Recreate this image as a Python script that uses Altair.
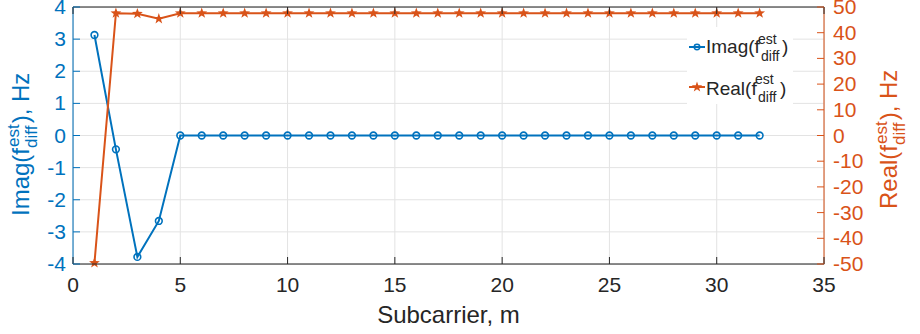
import math
import altair as alt
import pandas as pd

# ---------------- data ----------------
subcarrier = list(range(1, 33))
imag_vals = [3.13, -0.43, -3.78, -2.66, 0, 0, 0, 0, 0, 0, 0, 0, 0, 0, 0, 0,
             0, 0, 0, 0, 0, 0, 0, 0, 0, 0, 0, 0, 0, 0, 0, 0]
real_vals = [-49.6, 47.6, 47.4, 45.4, 47.6, 47.6, 47.6, 47.6, 47.6, 47.6, 47.6,
             47.6, 47.6, 47.6, 47.6, 47.6, 47.6, 47.6, 47.6, 47.6, 47.6, 47.6,
             47.6, 47.6, 47.6, 47.6, 47.6, 47.6, 47.6, 47.6, 47.6, 47.6]
x_ticks = [0, 5, 10, 15, 20, 25, 30, 35]
left_ticks = [-4, -3, -2, -1, 0, 1, 2, 3, 4]
right_ticks = [-50, -40, -30, -20, -10, 0, 10, 20, 30, 40, 50]
x_title = "Subcarrier, m"

# ---------------- style ----------------
BLUE = "#0072BD"
ORANGE = "#D95319"
DARK = "#262626"
GRID = "#e3e3e3"
FONT = "Liberation Sans"
L, T = 73, 7          # plot-area offset inside the window
W, H = 751, 257       # plot-area size
TICK = 7
LAB = 21              # tick label size
TF, SF = 24, 17       # title font / sub-superscript font

df = pd.DataFrame({"m": subcarrier, "imag": imag_vals, "real": real_vals})
one = pd.DataFrame({"a": [0]})
xt = pd.DataFrame({"v": x_ticks, "lab": [str(v) for v in x_ticks]})
ltk = pd.DataFrame({"v": left_ticks, "lab": [str(v) for v in left_ticks]})
rtk = pd.DataFrame({"v": right_ticks, "lab": [str(v) for v in right_ticks]})


def xs():
    return alt.Scale(domain=[0, 35], nice=False, zero=False)


def ls():
    return alt.Scale(domain=[-4, 4], nice=False, zero=False)


def rs():
    return alt.Scale(domain=[-50, 50], nice=False, zero=False)


# star symbol path (unit square)
pts = []
for k in range(10):
    r = 1.0 if k % 2 == 0 else 0.40
    a = math.radians(-90 + 36 * k)
    pts.append(f"{r*math.cos(a):.3f},{r*math.sin(a):.3f}")
STAR = "M" + " L".join(pts) + " Z"

# ---------- grid ----------
xgrid = alt.Chart(xt).mark_rule(color=GRID, strokeWidth=1).encode(
    x=alt.X("v:Q", scale=xs(), axis=None), y=alt.value(0), y2=alt.value(H))
ygrid = alt.Chart(ltk).mark_rule(color=GRID, strokeWidth=1).encode(
    y=alt.Y("v:Q", scale=ls(), axis=None), x=alt.value(0), x2=alt.value(W))

# ---------- series ----------
base = alt.Chart(df)
blue_line = base.mark_line(color=BLUE, strokeWidth=2).encode(
    x=alt.X("m:Q", scale=xs(), axis=None),
    y=alt.Y("imag:Q", scale=ls(), axis=None))
blue_pts = base.mark_point(shape="circle", filled=False, color=BLUE, size=45,
                           strokeWidth=1.6, opacity=1).encode(
    x=alt.X("m:Q", scale=xs(), axis=None),
    y=alt.Y("imag:Q", scale=ls(), axis=None))
blue = alt.layer(blue_line, blue_pts)

orange_line = base.mark_line(color=ORANGE, strokeWidth=2).encode(
    x=alt.X("m:Q", scale=xs(), axis=None),
    y=alt.Y("real:Q", scale=rs(), axis=None))
orange_pts = base.mark_point(shape=STAR, filled=True, color=ORANGE, size=130,
                             opacity=1).encode(
    x=alt.X("m:Q", scale=xs(), axis=None),
    y=alt.Y("real:Q", scale=rs(), axis=None))
orange = alt.layer(orange_line, orange_pts)

# ---------- axes (frame, inward ticks, labels) ----------
frame = [
    alt.Chart(one).mark_rule(color=DARK, strokeWidth=1).encode(
        x=alt.value(0), x2=alt.value(W), y=alt.value(0)),
    alt.Chart(one).mark_rule(color=DARK, strokeWidth=1).encode(
        x=alt.value(0), x2=alt.value(W), y=alt.value(H)),
    alt.Chart(one).mark_rule(color=BLUE, strokeWidth=1).encode(
        x=alt.value(0), y=alt.value(0), y2=alt.value(H)),
    alt.Chart(one).mark_rule(color=ORANGE, strokeWidth=1).encode(
        x=alt.value(W), y=alt.value(0), y2=alt.value(H)),
]
bticks = alt.Chart(xt).mark_rule(color=DARK, strokeWidth=1).encode(
    x=alt.X("v:Q", scale=xs(), axis=None), y=alt.value(H - TICK), y2=alt.value(H))
tticks = alt.Chart(xt).mark_rule(color=DARK, strokeWidth=1).encode(
    x=alt.X("v:Q", scale=xs(), axis=None), y=alt.value(0), y2=alt.value(TICK))
lticks = alt.Chart(ltk).mark_rule(color=BLUE, strokeWidth=1).encode(
    y=alt.Y("v:Q", scale=ls(), axis=None), x=alt.value(0), x2=alt.value(TICK))
rticks = alt.Chart(rtk).mark_rule(color=ORANGE, strokeWidth=1).encode(
    y=alt.Y("v:Q", scale=rs(), axis=None), x=alt.value(W - TICK), x2=alt.value(W))

xlabels = alt.Chart(xt).mark_text(
    align="center", baseline="alphabetic", fontSize=LAB, color=DARK, font=FONT).encode(
    x=alt.X("v:Q", scale=xs(), axis=None), y=alt.value(H + 28), text="lab:N")
llabels = alt.Chart(ltk).mark_text(
    align="right", baseline="middle", fontSize=LAB, color=BLUE, font=FONT, dy=1).encode(
    y=alt.Y("v:Q", scale=ls(), axis=None), x=alt.value(-7), text="lab:N")
rlabels = alt.Chart(rtk).mark_text(
    align="left", baseline="middle", fontSize=LAB, color=ORANGE, font=FONT, dy=1).encode(
    y=alt.Y("v:Q", scale=rs(), axis=None), x=alt.value(W + 9), text="lab:N")
xtitle = alt.Chart(one).mark_text(
    text=x_title, align="center", baseline="alphabetic", fontSize=TF, color=DARK,
    font=FONT).encode(x=alt.value(W / 2), y=alt.value(316))


def txt(s, ax, ay, size, color, angle=0):
    return alt.Chart(one).mark_text(
        text=s, align="left", baseline="alphabetic", angle=angle,
        fontSize=size, color=color, font=FONT).encode(
        x=alt.value(ax - L), y=alt.value(ay - T))


def ytitle(first, color, xb, ystart):
    # rotated composite title: first + f^est_diff + "), Hz"
    w_first = {"Imag(f": 2.834, "Real(f": 2.667}[first] * TF
    y1 = ystart - w_first - 1
    y2 = y1 - 1.334 * SF - 1
    y3 = y2 - 0.611 * TF - 0.278 * TF
    return [
        txt(first, xb, ystart, TF, color, 270),
        txt("est", xb - 10, y1, SF, color, 270),
        txt("diff", xb + 8, y1 + 1, SF, color, 270),
        txt("),", xb, y2, TF, color, 270),
        txt("Hz", xb, y3, TF, color, 270),
    ]


annos = ytitle("Imag(f", BLUE, 29, 216) + ytitle("Real(f", ORANGE, 897, 209)

# legend
leg = [
    alt.Chart(one).mark_rect(color="white").encode(
        x=alt.value(687 - L), x2=alt.value(793 - L), y=alt.value(27 - T), y2=alt.value(104 - T)),
    alt.Chart(one).mark_rule(color=BLUE, strokeWidth=2).encode(
        x=alt.value(689 - L), x2=alt.value(705 - L), y=alt.value(47 - T)),
    alt.Chart(one).mark_point(shape="circle", filled=False, color=BLUE, size=30,
                              strokeWidth=1.5, opacity=1).encode(
        x=alt.value(697 - L), y=alt.value(47 - T)),
    txt("Imag(f", 706, 53, 19, DARK),
    txt("est", 758, 44, 14, DARK),
    txt("diff", 761, 61, 14, DARK),
    txt(")", 782, 53, 19, DARK),
    alt.Chart(one).mark_rule(color=ORANGE, strokeWidth=2).encode(
        x=alt.value(689 - L), x2=alt.value(705 - L), y=alt.value(87 - T)),
    alt.Chart(one).mark_point(shape=STAR, filled=True, color=ORANGE, size=120,
                              opacity=1).encode(
        x=alt.value(697 - L), y=alt.value(87 - T)),
    txt("Real(f", 706, 95, 19, DARK),
    txt("est", 755, 84, 14, DARK),
    txt("diff", 758, 102, 14, DARK),
    txt(")", 780, 95, 19, DARK),
]

chart = alt.layer(
    xgrid, ygrid, blue, orange, *frame, bticks, tticks, lticks, rticks,
    xlabels, llabels, rlabels, xtitle, *annos, *leg
).resolve_scale(y="independent").properties(
    width=W, height=H,
    autosize=alt.AutoSizeParams(type="none"),
    padding={"left": L, "top": T, "right": 920 - L - W, "bottom": 334 - T - H},
).configure_view(stroke=None).configure(font=FONT)

chart.save("out.html", embed_options={"renderer": "svg", "actions": False})
